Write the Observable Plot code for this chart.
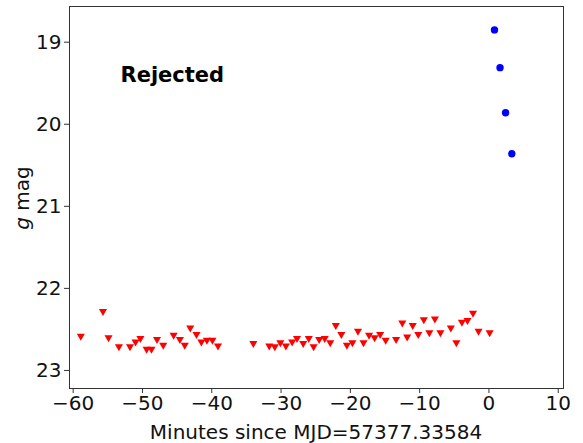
<!DOCTYPE html>
<html>
<head>
<meta charset="utf-8">
<script src="https://cdn.jsdelivr.net/npm/d3@7"></script>
<script src="https://cdn.jsdelivr.net/npm/@observablehq/plot@0.6"></script>
<style>
  html, body { margin: 0; padding: 0; background: #fff; }
  #chart svg { font-family: "DejaVu Sans", sans-serif; }
</style>
</head>
<body>
<div id="chart"></div>
<script>
// Upper limits (red down triangles): minutes, g mag
const limitMinutes = [-58.9, -55.7, -54.9, -53.4, -51.8, -51.0, -50.3, -49.4, -48.7, -47.9, -47.0,
  -45.5, -44.6, -43.9, -43.1, -42.2, -41.5, -40.7, -39.9, -39.1, -34.0, -31.7, -30.9, -30.1,
  -29.3, -28.4, -27.7, -26.8, -26.0, -25.3, -24.5, -23.7, -22.9, -22.1, -21.3, -20.5, -19.7,
  -18.9, -18.1, -17.3, -16.5, -15.7, -14.9, -13.4, -12.5, -11.8, -11.0, -10.2, -9.4, -8.6,
  -7.8, -7.0, -5.5, -4.7, -3.9, -3.1, -2.3, -1.5, 0.1];
const limitMags = [22.58, 22.28, 22.60, 22.71, 22.71, 22.65, 22.61, 22.74, 22.74, 22.62, 22.69,
  22.57, 22.62, 22.69, 22.48, 22.56, 22.65, 22.63, 22.63, 22.70, 22.67, 22.70, 22.71, 22.66,
  22.70, 22.65, 22.61, 22.67, 22.61, 22.71, 22.62, 22.61, 22.66, 22.45, 22.56, 22.69, 22.66,
  22.52, 22.66, 22.57, 22.60, 22.56, 22.63, 22.62, 22.42, 22.59, 22.45, 22.56, 22.38, 22.54,
  22.37, 22.54, 22.48, 22.66, 22.41, 22.39, 22.30, 22.52, 22.54];
// Detections (blue dots)
const detMinutes = [0.8, 1.6, 2.4, 3.3];
const detMags = [18.85, 19.31, 19.86, 20.36];

const xTicks = [-60, -50, -40, -30, -20, -10, 0, 10];
const yTicks = [19, 20, 21, 22, 23];
const annotation = "Rejected";

const limits = limitMinutes.map((x, i) => ({x, y: limitMags[i]}));
const dets = detMinutes.map((x, i) => ({x, y: detMags[i]}));

const chart = Plot.plot({
  width: 583,
  height: 443,
  marginLeft: 69,
  marginRight: 20,
  marginTop: 6,
  marginBottom: 55,
  style: {fontSize: "20px", fontFamily: "DejaVu Sans, sans-serif", color: "#111", background: "#fff"},
  x: {domain: [-60.53, 10.76]},
  y: {domain: [18.565, 23.22], reverse: true},
  marks: [
    Plot.frame({stroke: "#333", strokeWidth: 1}),
    Plot.axisX({ticks: xTicks, tickSize: 5, tickPadding: 2, label: null, stroke: "#333"}),
    Plot.axisY({ticks: yTicks, tickSize: 5, tickPadding: 3, label: null, stroke: "#333", tickFormat: d => String(d)}),
    Plot.dot(limits, {x: "x", y: "y", symbol: "triangle", rotate: 180, r: 3.0, fill: "#ff0000", stroke: "none"}),
    Plot.dot(dets, {x: "x", y: "y", symbol: "circle", r: 3.7, fill: "#0000ff", stroke: "none"}),
    Plot.text([annotation], {frameAnchor: "top-left", dx: 51, dy: 69, lineAnchor: "middle", textAnchor: "start", fontWeight: "bold", fontSize: 21, fill: "#000"})
  ]
});

const svg = d3.select(chart);
svg.append("text")
  .attr("x", 316).attr("y", 439)
  .attr("text-anchor", "middle")
  .attr("font-size", 20)
  .attr("fill", "#111")
  .text("Minutes since MJD=57377.33584");
const yl = svg.append("text")
  .attr("transform", "translate(29,198) rotate(-90)")
  .attr("text-anchor", "middle")
  .attr("font-size", 20)
  .attr("fill", "#111");
yl.append("tspan").attr("font-style", "italic").text("g");
yl.append("tspan").text(" mag");

document.getElementById("chart").appendChild(chart);
</script>
</body>
</html>
